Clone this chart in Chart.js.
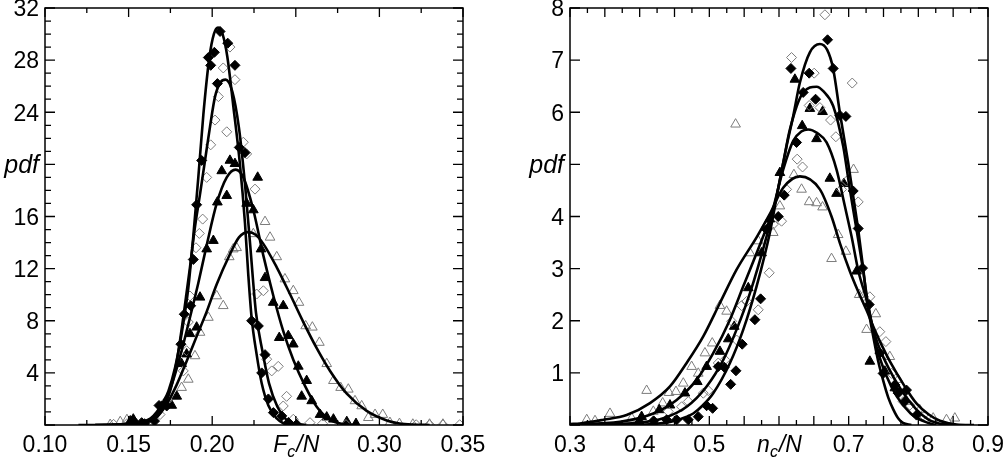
<!DOCTYPE html>
<html>
<head>
<meta charset="utf-8">
<script src="https://cdn.jsdelivr.net/npm/chart.js@4.4.0/dist/chart.umd.min.js"></script>
<style>
  html, body { margin: 0; padding: 0; background: #fff; overflow: hidden; }
  .panel { position: absolute; top: 0; height: 457px; }
  #left { left: 0; width: 500px; }
  #right { left: 500px; width: 503px; }
</style>
</head>
<body>
<div class="panel" id="left"><canvas id="fc"></canvas></div>
<div class="panel" id="right"><canvas id="nc"></canvas></div>
<script>
// ---- left panel: pdf of Fc/N (x, pdf) ----
const fcCurveA = [[0.12,0],[0.14,0.02],[0.15,0.08],[0.157,0.2],[0.163,0.5],[0.1668,1.0],[0.1708,1.8],[0.1738,2.6],[0.1778,4.4],[0.1817,7.0],[0.1857,10.5],[0.1887,14.5],[0.1917,19.0],[0.1947,23.8],[0.1983,28.2],[0.2010,30.0],[0.2035,30.5],[0.2062,30.0],[0.2090,28.3],[0.2126,24.5],[0.2166,20.0],[0.2196,15.5],[0.2216,11.5],[0.2236,8.2],[0.2266,5.4],[0.2296,3.2],[0.2336,1.5],[0.2386,0.5],[0.2430,0.1],[0.248,0]];
const fcCurveB = [[0.13,0],[0.15,0.03],[0.158,0.12],[0.165,0.45],[0.1708,1.3],[0.1748,2.6],[0.1788,4.9],[0.1827,8.25],[0.1867,12.1],[0.1897,15.2],[0.1927,17.7],[0.1957,20.3],[0.1987,22.9],[0.2017,25.2],[0.2050,26.3],[0.2080,26.5],[0.2120,25.6],[0.2160,22.8],[0.2196,18.5],[0.2226,14.0],[0.2262,8.6],[0.2300,5.7],[0.2340,3.2],[0.2390,1.4],[0.2440,0.45],[0.2490,0.12],[0.256,0]];
const fcCurveC = [[0.14,0],[0.15,0.05],[0.157,0.18],[0.1628,0.44],[0.1698,1.33],[0.1758,3.1],[0.1817,5.7],[0.1867,8.25],[0.1917,10.9],[0.1967,13.8],[0.2027,17.0],[0.2087,19.0],[0.2140,19.6],[0.2186,19.0],[0.2246,16.5],[0.2306,13.0],[0.2366,9.9],[0.2425,7.2],[0.2485,5.0],[0.2555,3.0],[0.2625,1.4],[0.2705,0.4],[0.278,0.08],[0.287,0]];
const fcCurveD = [[0.13,0],[0.145,0.05],[0.16,0.25],[0.1668,0.6],[0.1728,1.6],[0.1788,3.1],[0.1847,4.9],[0.1907,6.8],[0.1967,8.7],[0.2027,10.8],[0.2106,13.1],[0.2160,14.4],[0.2215,14.8],[0.2260,14.6],[0.2306,13.9],[0.2386,12.1],[0.2465,10.05],[0.2545,7.9],[0.2625,5.9],[0.2705,4.15],[0.2805,2.4],[0.2924,1.08],[0.3044,0.35],[0.312,0.12],[0.32,0.03],[0.33,0]];

const fcFilledDiamonds = [[0.1977,28.2],[0.2013,28.6],[0.2047,30.2],[0.2093,29.3],[0.2136,27.6],[0.1991,27.6],[0.2031,26.2],[0.1937,20.3],[0.1907,16.9],[0.1887,12.7],[0.1871,9.15],[0.1833,8.5],[0.1813,6.2],[0.1728,1.46],[0.1698,1.46],[0.1682,1.5],[0.1578,0.18],[0.1525,0.36],[0.1595,0.1],[0.1655,0.3],[0.2162,21.3],[0.2196,20.9],[0.2236,8.0],[0.2276,7.6],[0.2316,5.4],[0.2296,4.0],[0.2336,2.0],[0.2366,0.95],[0.2416,0.7],[0.2456,0.2],[0.2505,0.05]];
const fcOpenDiamonds = [[0.2106,29.0],[0.2066,27.4],[0.2136,26.5],[0.2037,25.2],[0.2017,23.4],[0.2087,22.5],[0.1991,21.5],[0.2186,21.7],[0.2206,20.8],[0.1967,19.0],[0.2256,18.1],[0.1943,15.8],[0.1923,14.7],[0.1903,13.6],[0.2266,10.05],[0.2306,10.3],[0.1867,9.9],[0.1857,7.9],[0.1847,5.7],[0.1827,4.15],[0.2326,5.05],[0.2356,4.15],[0.2395,4.5],[0.2445,2.2],[0.2425,1.46],[0.2485,0.44],[0.2585,0.18],[0.266,0.1],[0.1688,0.8],[0.1728,1.85],[0.141,0.05],[0.149,0.1],[0.28,0.03],[0.322,0.02],[0.33,0.02],[0.338,0.02],[0.348,0.02]];
const fcFilledTriangles = [[0.2106,20.3],[0.2136,20.05],[0.2272,19.0],[0.2057,19.5],[0.2087,17.6],[0.2031,17.1],[0.2007,14.15],[0.1967,13.5],[0.2246,16.5],[0.2206,17.0],[0.2292,13.5],[0.2316,11.3],[0.2365,9.4],[0.2425,9.15],[0.2401,6.7],[0.2455,6.85],[0.2485,6.2],[0.2515,4.5],[0.2565,3.4],[0.2535,2.2],[0.2595,1.85],[0.2645,0.8],[0.2685,0.6],[0.2725,0.44],[0.2805,0.25],[0.286,0.1],[0.1927,9.8],[0.1907,7.5],[0.1867,7.0],[0.1847,5.44],[0.1817,4.7],[0.1788,2.2],[0.1758,1.5],[0.1528,0.44],[0.151,0.3]];
const fcOpenTriangles = [[0.2316,15.6],[0.2346,14.4],[0.2246,14.67],[0.2126,13.5],[0.2146,13.6],[0.2102,12.9],[0.2386,12.9],[0.2435,11.2],[0.2485,10.3],[0.2519,9.4],[0.2066,9.15],[0.2027,9.9],[0.1977,8.25],[0.1927,7.1],[0.1897,5.3],[0.1857,3.5],[0.1817,2.87],[0.2559,7.6],[0.2599,7.5],[0.2641,6.33],[0.2685,4.7],[0.2725,3.4],[0.2768,2.87],[0.2814,2.74],[0.2854,1.85],[0.2894,1.46],[0.2934,0.56],[0.2974,0.8],[0.302,0.8],[0.3063,0.18],[0.312,0.1],[0.32,0.05],[0.33,0.05],[0.338,0.05],[0.139,0.03],[0.145,0.25],[0.149,0.4]];

// ---- right panel: pdf of nc/N ----
const ncCurveE = [[0.30,0],[0.38,0.005],[0.42,0.02],[0.4435,0.06],[0.46,0.12],[0.4769,0.22],[0.49,0.37],[0.5056,0.61],[0.5296,1.19],[0.5487,1.83],[0.5678,2.66],[0.5869,3.69],[0.6013,4.71],[0.6109,5.35],[0.6204,5.93],[0.63,6.57],[0.6443,7.15],[0.6587,7.31],[0.6690,7.2],[0.6778,6.83],[0.6874,5.99],[0.6993,5.03],[0.7065,4.39],[0.7137,3.75],[0.7209,3.0],[0.7257,2.45],[0.7352,1.7],[0.742,1.25],[0.7496,0.85],[0.757,0.52],[0.764,0.3],[0.771,0.13],[0.778,0.04],[0.79,0]];
const ncCurveF = [[0.30,0],[0.36,0.01],[0.3957,0.04],[0.4339,0.13],[0.4674,0.35],[0.4961,0.74],[0.52,1.25],[0.5391,1.83],[0.5583,2.53],[0.5822,3.62],[0.5965,4.39],[0.606,5.03],[0.6156,5.67],[0.6347,6.38],[0.6539,6.49],[0.6640,6.4],[0.6778,6.12],[0.6921,5.35],[0.7017,4.52],[0.7113,3.75],[0.7209,2.95],[0.7257,2.5],[0.733,1.95],[0.740,1.5],[0.754,0.95],[0.769,0.55],[0.789,0.22],[0.80,0.12],[0.812,0.05],[0.825,0]];
const ncCurveG = [[0.30,0.01],[0.3717,0.06],[0.4196,0.22],[0.4531,0.48],[0.4818,0.87],[0.5056,1.38],[0.5296,2.02],[0.5487,2.66],[0.5774,3.62],[0.5893,4.05],[0.606,4.9],[0.6204,5.45],[0.6320,5.63],[0.6419,5.67],[0.6550,5.6],[0.6683,5.42],[0.6826,4.9],[0.6945,4.2],[0.7041,3.62],[0.714,2.95],[0.7257,2.4],[0.735,1.85],[0.742,1.55],[0.757,1.1],[0.775,0.68],[0.797,0.3],[0.815,0.1],[0.83,0.03],[0.845,0]];
const ncCurveH = [[0.30,0.02],[0.3143,0.03],[0.3478,0.1],[0.3813,0.19],[0.4148,0.42],[0.4435,0.74],[0.4674,1.19],[0.4913,1.70],[0.5152,2.34],[0.5391,2.98],[0.5678,3.6],[0.5869,4.05],[0.606,4.55],[0.63,4.77],[0.6587,4.52],[0.6754,4.0],[0.6874,3.49],[0.7017,2.95],[0.714,2.55],[0.7257,2.2],[0.735,1.9],[0.745,1.6],[0.76,1.2],[0.78,0.75],[0.797,0.42],[0.815,0.2],[0.831,0.08],[0.855,0.01],[0.88,0]];

const ncFilledDiamonds = [[0.6697,7.39],[0.6171,6.84],[0.6433,6.75],[0.6347,6.38],[0.6525,6.25],[0.6778,6.84],[0.6874,5.94],[0.696,5.92],[0.6252,5.42],[0.6075,4.41],[0.7065,4.49],[0.7137,3.77],[0.5822,3.75],[0.5989,4.0],[0.5736,2.42],[0.5654,2.02],[0.5472,1.55],[0.5382,1.04],[0.5306,0.78],[0.5128,1.12],[0.5214,1.11],[0.5047,0.32],[0.4961,0.37],[0.4841,0.16],[0.4698,0.1],[0.4531,0.1],[0.4387,0.1],[0.42,0.08],[0.40,0.05],[0.7295,2.31],[0.7199,3.01],[0.7447,1.38],[0.7495,0.99],[0.7663,0.77],[0.7711,0.61],[0.7806,0.45],[0.783,0.67],[0.7974,0.19]];
const ncOpenDiamonds = [[0.6659,7.87],[0.618,7.05],[0.6505,6.75],[0.6433,6.13],[0.6587,6.09],[0.674,5.85],[0.6816,5.53],[0.7051,6.56],[0.6261,5.1],[0.6338,4.95],[0.697,4.68],[0.6898,4.52],[0.7137,4.28],[0.6109,4.52],[0.6037,3.91],[0.5917,3.85],[0.586,2.92],[0.5702,2.21],[0.5535,2.37],[0.5463,2.29],[0.532,1.99],[0.5392,1.63],[0.5224,1.25],[0.5128,1.19],[0.4913,0.61],[0.4985,0.66],[0.4698,0.45],[0.4602,0.35],[0.441,0.26],[0.7209,2.47],[0.7304,2.46],[0.7447,1.79],[0.7534,1.6],[0.7615,0.99],[0.7782,0.45],[0.7878,0.38],[0.8069,0.19]];
const ncFilledTriangles = [[0.6228,6.63],[0.6443,6.07],[0.6625,6.01],[0.6333,5.74],[0.6539,5.49],[0.673,4.73],[0.6826,4.44],[0.6931,4.63],[0.6013,4.84],[0.5869,3.95],[0.575,3.3],[0.5559,2.63],[0.5358,1.89],[0.5272,1.65],[0.5152,1.41],[0.4961,1.12],[0.4827,0.83],[0.465,0.61],[0.4435,0.38],[0.4282,0.29],[0.4028,0.16],[0.7113,2.95],[0.7304,1.22],[0.7519,1.03],[0.7663,0.71]];
const ncOpenTriangles = [[0.5377,5.77],[0.6214,4.8],[0.6324,4.52],[0.6433,4.28],[0.6539,4.26],[0.6625,4.18],[0.707,4.9],[0.6849,3.65],[0.6013,4.2],[0.6754,3.19],[0.696,3.33],[0.7151,2.5],[0.7257,1.83],[0.739,2.13],[0.7591,1.31],[0.7711,0.87],[0.7831,0.45],[0.5152,2.29],[0.5248,2.18],[0.5583,3.3],[0.5702,3.53],[0.5917,3.69],[0.5822,3.85],[0.5042,1.57],[0.4937,1.38],[0.4841,0.99],[0.4746,1.12],[0.4626,0.8],[0.4521,0.64],[0.4421,0.62],[0.433,0.42],[0.41,0.66],[0.4196,0.26],[0.3574,0.22],[0.324,0.1],[0.3359,0.08],[0.3885,0.13],[0.802,0.29],[0.8213,0.13],[0.8404,0.1],[0.8524,0.13]];

const FONT = "'Liberation Sans', Arial, Helvetica, sans-serif";
const GREY = '#7c7c7c';

const toXY = arr => arr.map(p => ({x: p[0], y: p[1]}));

const curve = d => ({
    data: toXY(d),
    showLine: true,
    borderColor: '#000',
    borderWidth: 2.6,
    pointRadius: 0,
    pointHoverRadius: 0,
    cubicInterpolationMode: 'monotone',
    order: 0
});

const marks = (d, shape, filled) => ({
    data: toXY(d),
    showLine: false,
    pointStyle: shape,
    pointRadius: shape === 'triangle' ? 5.6 : 5,
    pointBorderWidth: 1,
    pointBackgroundColor: filled ? '#000' : 'rgba(255,255,255,0)',
    pointBorderColor: filled ? '#000' : GREY,
    order: 1
});

const near = (v, step) => Math.abs(v / step - Math.round(v / step)) < 1e-6;

// inward ticks on four sides, frame, and the x axis title sitting in the tick row
const frameTicks = {
    id: 'frameTicks',
    afterDraw(chart, args, o) {
        const {ctx, chartArea: a, scales: {x, y}} = chart;
        ctx.save();
        ctx.strokeStyle = '#000';
        ctx.lineWidth = 1.3;
        ctx.beginPath();
        x.ticks.forEach(t => {
            const px = x.getPixelForValue(t.value);
            const len = near(t.value, o.xMajor) ? 9 : 5;
            ctx.moveTo(px, a.bottom); ctx.lineTo(px, a.bottom - len);
            ctx.moveTo(px, a.top); ctx.lineTo(px, a.top + len);
        });
        y.ticks.forEach(t => {
            const py = y.getPixelForValue(t.value);
            const len = near(t.value, o.yMajor) ? 10 : 6;
            ctx.moveTo(a.left, py); ctx.lineTo(a.left + len, py);
            ctx.moveTo(a.right, py); ctx.lineTo(a.right - len, py);
        });
        ctx.stroke();
        ctx.lineWidth = 1.5;
        ctx.strokeRect(a.left, a.top, a.right - a.left, a.bottom - a.top);

        // title like "Fc/N" with subscript c
        const big = 'italic 23px ' + FONT, small = 'italic 16px ' + FONT;
        ctx.font = big; const w1 = ctx.measureText(o.main).width, w3 = ctx.measureText(o.tail).width;
        ctx.font = small; const w2 = ctx.measureText(o.sub).width;
        let tx = x.getPixelForValue(o.at) - (w1 + w2 + w3) / 2;
        const base = a.bottom + 27;
        ctx.fillStyle = '#000';
        ctx.textBaseline = 'alphabetic';
        ctx.textAlign = 'left';
        ctx.font = big; ctx.fillText(o.main, tx, base); tx += w1;
        ctx.font = small; ctx.fillText(o.sub, tx, base + 5); tx += w2 + 1;
        ctx.font = big; ctx.fillText(o.tail, tx, base);
        ctx.restore();
    }
};

function makeChart(id, cfg) {
    return new Chart(document.getElementById(id), {
        type: 'scatter',
        data: {datasets: cfg.datasets},
        plugins: [frameTicks],
        options: {
            responsive: true,
            maintainAspectRatio: false,
            animation: false,
            events: [],
            layout: {padding: {top: 8, right: cfg.right, left: 0, bottom: 0}},
            plugins: {
                legend: {display: false},
                tooltip: {enabled: false},
                frameTicks: {xMajor: cfg.xMajor, yMajor: cfg.yMajor, at: cfg.titleAt, main: cfg.main, sub: 'c', tail: '/N'}
            },
            scales: {
                x: {
                    type: 'linear', min: cfg.xMin, max: cfg.xMax,
                    grid: {display: false, drawTicks: false},
                    border: {display: false},
                    ticks: {
                        stepSize: 0.025, autoSkip: false, maxRotation: 0, minRotation: 0,
                        padding: 7, color: '#000', font: {family: FONT, size: 23},
                        callback: cfg.xLabel
                    },
                    afterFit: s => { s.height = 32; s.paddingLeft = 0; s.paddingRight = 0; }
                },
                y: {
                    type: 'linear', min: 0, max: cfg.yMax,
                    grid: {display: false, drawTicks: false},
                    border: {display: false},
                    ticks: {
                        stepSize: 1, autoSkip: false, padding: 6, color: '#000', labelOffset: 2,
                        font: c => (c.tick && c.tick.value === cfg.pdfAt)
                            ? {family: FONT, size: 25, style: 'italic'}
                            : {family: FONT, size: 23},
                        callback: v => v === 0 ? '' : (v === cfg.pdfAt ? 'pdf' : (near(v, cfg.yLabelStep) ? String(v) : ''))
                    },
                    afterFit: s => { s.width = cfg.yWidth; s.paddingTop = 0; s.paddingBottom = 0; }
                }
            }
        }
    });
}

makeChart('fc', {
    datasets: [
        curve(fcCurveA), curve(fcCurveB), curve(fcCurveC), curve(fcCurveD),
        marks(fcFilledDiamonds, 'rectRot', true),
        marks(fcOpenDiamonds, 'rectRot', false),
        marks(fcFilledTriangles, 'triangle', true),
        marks(fcOpenTriangles, 'triangle', false)
    ],
    xMin: 0.10, xMax: 0.35, yMax: 32, right: 37, yWidth: 45,
    xMajor: 0.05, yMajor: 4, yLabelStep: 4, pdfAt: 20, titleAt: 0.25, main: 'F',
    xLabel: v => { const k = Math.round(v * 1000); return (k % 50 !== 0 || k === 250) ? '' : v.toFixed(2); }
});

makeChart('nc', {
    datasets: [
        curve(ncCurveE), curve(ncCurveF), curve(ncCurveG), curve(ncCurveH),
        marks(ncFilledDiamonds, 'rectRot', true),
        marks(ncOpenDiamonds, 'rectRot', false),
        marks(ncFilledTriangles, 'triangle', true),
        marks(ncOpenTriangles, 'triangle', false)
    ],
    xMin: 0.3, xMax: 0.9, yMax: 8, right: 15, yWidth: 70,
    xMajor: 0.05, yMajor: 1, yLabelStep: 1, pdfAt: 5, titleAt: 0.6, main: 'n',
    xLabel: v => { const k = Math.round(v * 1000); return (k % 100 !== 0 || k === 600) ? '' : v.toFixed(1); }
});
</script>
</body>
</html>
